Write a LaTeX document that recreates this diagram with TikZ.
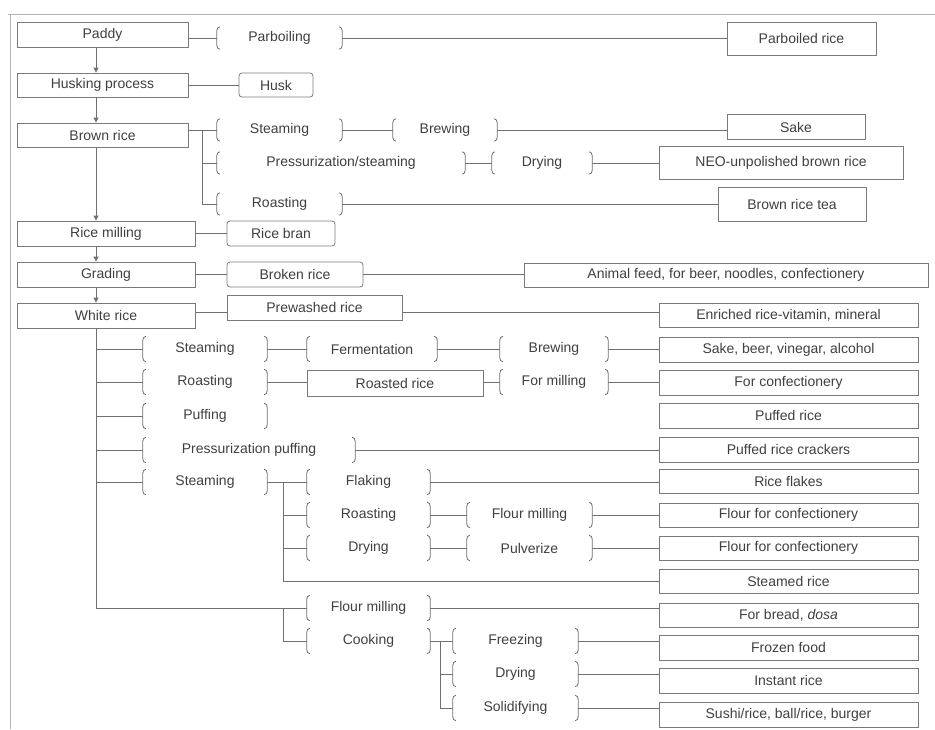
\documentclass[tikz,border=0pt]{standalone}
\usepackage{fontspec}
\setmainfont{Liberation Sans}
\usetikzlibrary{arrows.meta}
\definecolor{lg}{HTML}{707070}
\definecolor{bg}{HTML}{7A7A7A}
\definecolor{tg}{HTML}{404040}
\newcommand\dfont{\fontsize{14}{16}\selectfont}
\newcommand\drawbrk[1]{%
  \draw[ln] ([xshift=3pt]#1.north west) to[out=180,in=90] ([yshift=-4pt]#1.north west) -- ([yshift=4pt]#1.south west) to[out=-90,in=180] ([xshift=3pt]#1.south west);
  \draw[ln] ([xshift=-3pt]#1.north east) to[out=0,in=90] ([yshift=-4pt]#1.north east) -- ([yshift=4pt]#1.south east) to[out=-90,in=0] ([xshift=-3pt]#1.south east);}
\begin{document}
\begin{tikzpicture}[x=1pt,y=-1pt,
  ln/.style={draw=lg,line width=0.8pt},
  box/.style 2 args={draw=bg,line width=0.8pt,minimum width=#1,minimum height=#2,inner sep=0pt,text=tg,font=\dfont},
  rbox/.style 2 args={box={#1}{#2},rounded corners=3pt},
  brk/.style={minimum width=#1,minimum height=22,inner sep=0pt,text=tg,font=\dfont},
  tall/.style={minimum height=25},
  arr/.style={ln,-{Triangle[width=5pt,length=5pt]}}]
\useasboundingbox (0,0) rectangle (935,729);
\fill[white] (0,0) rectangle (935,729);
% frame
\draw[draw=gray!60,line width=0.8pt] (8,14) -- (935,14);
\draw[draw=gray!60,line width=0.8pt] (10,14) -- (10,729);

% main column
\node[box={171}{25}] (paddy) at (102.5,34.5) {Paddy};
\node[box={171}{24}] (husking) at (102.5,85) {Husking process};
\node[box={171}{24}] (brown) at (102.5,135) {Brown rice};
\node[box={178}{25}] (milling) at (106,233.5) {Rice milling};
\node[box={178}{25}] (grading) at (106,274.5) {Grading};
\node[box={178}{25}] (white) at (106,315.5) {White rice};
\coordinate (ltr) at (96,0);
\draw[arr] (paddy.south -| ltr) -- (husking.north -| ltr);
\draw[arr] (husking.south -| ltr) -- (brown.north -| ltr);
\draw[arr] (brown.south -| ltr) -- (milling.north -| ltr);
\draw[arr] (milling.south -| ltr) -- (grading.north -| ltr);
\draw[arr] (grading.south -| ltr) -- (white.north -| ltr);

% row 1
\node[brk=125] (parb) at (279.5,38) {Parboiling};
\node[box={149}{33}] (parboiled) at (801.5,38.5) {Parboiled rice};
\draw[ln] (paddy.east |- parb.west) -- (parb.west);
\draw[ln] (parb.east) -- (parb.east -| parboiled.west);

% row 2
\node[rbox={74}{24}] (husk) at (276,85) {Husk};
\draw[ln] (husking.east) -- (husk.west);

% brown rice
\node[brk=125] (steam1) at (279.5,130) {Steaming};
\node[brk=104] (brew1) at (445,130) {Brewing};
\node[box={138}{25}] (sake) at (796,127) {Sake};
\node[brk=248] (press1) at (341,163) {Pressurization/steaming};
\node[brk=100] (dry1) at (542,163) {Drying};
\node[box={244}{33}] (neo) at (781,162.5) {NEO-unpolished brown rice};
\node[brk=125] (roast1) at (279.5,204) {Roasting};
\node[box={148}{34}] (tea) at (792,204) {Brown rice tea};
\coordinate (btr) at (202,0);
\draw[ln] (brown.east |- steam1.west) -- (steam1.west);
\draw[ln] (steam1.west -| btr) -- (roast1.west -| btr) -- (roast1.west);
\draw[ln] (press1.west -| btr) -- (press1.west);
\draw[ln] (steam1.east) -- (brew1.west);
\draw[ln] (brew1.east) -- (brew1.east -| sake.west);
\draw[ln] (press1.east) -- (dry1.west);
\draw[ln] (dry1.east) -- (dry1.east -| neo.west);
\draw[ln] (roast1.east) -- (roast1.east -| tea.west);

% rice milling, grading
\node[rbox={108}{25}] (bran) at (281,233.5) {Rice bran};
\draw[ln] (milling.east) -- (bran.west);
\node[rbox={136}{25}] (broken) at (295,274.5) {Broken rice};
\node[box={404}{24}] (feed) at (726,275) {Animal feed, for beer, noodles, confectionery};
\draw[ln] (grading.east) -- (broken.west);
\draw[ln] (broken.east) -- (broken.east -| feed.west);

% white rice
\node[box={175}{25}] (prew) at (314.5,307.5) {Prewashed rice};
\node[box={259}{24}] (enr) at (788.5,315) {Enriched rice-vitamin, mineral};
\coordinate (rw) at (0,312);
\draw[ln] (white.east |- rw) -- (prew.west |- rw);
\draw[ln] (prew.east |- rw) -- (enr.west |- rw);

\node[brk=124,tall] (steam2) at (205,349) {Steaming};
\node[brk=130,tall] (ferm) at (372,349) {Fermentation};
\node[brk=108,tall] (brew2) at (554,349) {Brewing};
\node[box={259}{25}] (sbva) at (788.5,349.5) {Sake, beer, vinegar, alcohol};
\node[brk=124,tall] (roast2) at (205,382) {Roasting};
\node[box={176}{26}] (roasted) at (395,383) {Roasted rice};
\node[brk=108,tall] (formill) at (554,382) {For milling};
\node[box={259}{25}] (forconf) at (788.5,382.5) {For confectionery};
\node[brk=124,tall] (puff) at (205,416) {Puffing};
\node[box={259}{25}] (puffed) at (788.5,415.5) {Puffed rice};
\node[brk=212,tall] (ppuff) at (249,450) {Pressurization puffing};
\node[box={259}{25}] (crack) at (788.5,449.5) {Puffed rice crackers};
\node[brk=124,tall] (steam3) at (205,482) {Steaming};
\node[brk=123,tall] (flak) at (368.5,482) {Flaking};
\node[box={259}{24}] (flakes) at (788.5,481) {Rice flakes};
\node[brk=123,tall] (roast3) at (368.5,515) {Roasting};
\node[brk=125,tall] (fmill1) at (529.5,515) {Flour milling};
\node[box={259}{24}] (fc1) at (788.5,515) {Flour for confectionery};
\node[brk=123,tall] (dry2) at (368.5,548) {Drying};
\node[brk=125,tall] (pulv) at (529.5,548) {Pulverize};
\node[box={259}{24}] (fc2) at (788.5,548) {Flour for confectionery};
\node[box={259}{24}] (steamed) at (788.5,581) {Steamed rice};
\node[brk=123,tall] (fmill2) at (368.5,608) {Flour milling};
\node[box={259}{24}] (bread) at (788.5,615) {For bread, \textit{dosa}};
\node[brk=123,tall] (cook) at (368.5,641) {Cooking};
\node[brk=125,tall] (freez) at (515.5,641) {Freezing};
\node[box={259}{25}] (frozen) at (788.5,647.5) {Frozen food};
\node[brk=125,tall] (dry3) at (515.5,674) {Drying};
\node[box={259}{25}] (inst) at (788.5,680.5) {Instant rice};
\node[brk=125,tall] (solid) at (515.5,708) {Solidifying};
\node[box={259}{25}] (sushi) at (788.5,714.5) {Sushi/rice, ball/rice, burger};

\coordinate (wtr) at (96,0);
\draw[ln] (white.south -| wtr) -- (fmill2.west -| wtr) -- (fmill2.west);
\foreach \n in {steam2,roast2,puff,ppuff,steam3}
  \draw[ln] (\n.west -| wtr) -- (\n.west);
\draw[ln] (steam2.east) -- (ferm.west);
\draw[ln] (ferm.east) -- (brew2.west);
\draw[ln] (brew2.east) -- (brew2.east -| sbva.west);
\draw[ln] (roast2.east) -- (roast2.east -| roasted.west);
\draw[ln] (roasted.east |- formill.west) -- (formill.west);
\draw[ln] (formill.east) -- (formill.east -| forconf.west);
\draw[ln] (ppuff.east) -- (ppuff.east -| crack.west);

\coordinate (str) at (283,0);
\draw[ln] (steam3.east) -- (flak.west);
\draw[ln] (steam3.east -| str) -- (steamed.west -| str) -- (steamed.west);
\draw[ln] (roast3.west -| str) -- (roast3.west);
\draw[ln] (dry2.west -| str) -- (dry2.west);
\draw[ln] (flak.east) -- (flak.east -| flakes.west);
\draw[ln] (roast3.east) -- (fmill1.west);
\draw[ln] (fmill1.east) -- (fmill1.east -| fc1.west);
\draw[ln] (dry2.east) -- (pulv.west);
\draw[ln] (pulv.east) -- (pulv.east -| fc2.west);

\draw[ln] (fmill2.west -| str) -- (cook.west -| str) -- (cook.west);
\draw[ln] (fmill2.east) -- (fmill2.east -| bread.west);
\coordinate (ctr) at (440,0);
\draw[ln] (cook.east) -- (freez.west);
\draw[ln] (cook.east -| ctr) -- (solid.west -| ctr) -- (solid.west);
\draw[ln] (dry3.west -| ctr) -- (dry3.west);
\draw[ln] (freez.east) -- (freez.east -| frozen.west);
\draw[ln] (dry3.east) -- (dry3.east -| inst.west);
\draw[ln] (solid.east) -- (solid.east -| sushi.west);

\foreach \n in {parb,steam1,brew1,press1,dry1,roast1,steam2,ferm,brew2,roast2,formill,puff,ppuff,steam3,flak,roast3,fmill1,dry2,pulv,fmill2,cook,freez,dry3,solid}
  \drawbrk{\n};
\end{tikzpicture}
\end{document}
